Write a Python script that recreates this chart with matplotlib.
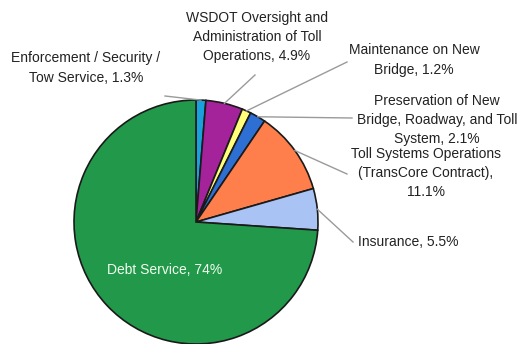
import numpy as np
import matplotlib.pyplot as plt

# toll budget shares, clockwise from 12 o'clock
categories = ["Enforcement / Security /\nTow Service",
              "WSDOT Oversight and\nAdministration of Toll\nOperations",
              "Maintenance on New\nBridge",
              "Preservation of New\nBridge, Roadway, and Toll\nSystem",
              "Toll Systems Operations\n(TransCore Contract),\n",
              "Insurance",
              "Debt Service"]
shares = [1.3, 4.9, 1.2, 2.1, 11.1, 5.5, 74]
colors = ["#1aa0dc", "#a4229a", "#ffff7a", "#2e6fd3", "#ff7f4c", "#a9c3f4", "#22984a"]

# label anchor (text pos), leader end
label_pos = [(86, 68), (257, 37), (414, 60), (437, 120), (426, 173), (358, 242), (165, 270)]
leader_end = [(165, 96), (255, 75), (347, 62), (352, 118), (347, 174), (353, 242), None]

plt.rcParams['font.family'] = ['Liberation Sans', 'DejaVu Sans']

fig = plt.figure(figsize=(5.24, 3.44), dpi=100)
ax = fig.add_axes([0, 0, 1, 1])

cx, cy, r = 196, 222, 122
wedges, _ = ax.pie(shares, colors=colors, startangle=90, counterclock=False,
                   center=(cx, -cy), radius=r,
                   wedgeprops=dict(edgecolor="#1a1a1a", linewidth=1.2))
ax.set_xlim(0, 524)
ax.set_ylim(-344, 0)
ax.set_aspect("equal")
ax.axis("off")

for w, name, val, pos, end in zip(wedges, categories, shares, label_pos, leader_end):
    if name.endswith("\n"):
        txt = name + "%.1f%%" % val
    elif val >= 10 and val == int(val):
        txt = "%s, %d%%" % (name, val)
    else:
        txt = "%s, %.1f%%" % (name, val)
    if end is None:
        ax.text(pos[0], -pos[1], txt, ha="center", va="center", fontsize=10,
                color="#f0fff0")
        continue
    ang = np.deg2rad((w.theta1 + w.theta2) / 2)
    sx, sy = cx + r * np.cos(ang), -cy + r * np.sin(ang)
    ax.plot([sx, end[0]], [sy, -end[1]], color="#9a9a9a", lw=1)
    ha = "left" if name == "Insurance" else "center"
    ax.text(pos[0], -pos[1], txt, ha=ha, va="center", fontsize=10,
            color="#222222", linespacing=1.48)

fig.savefig("out.png", dpi=100)
